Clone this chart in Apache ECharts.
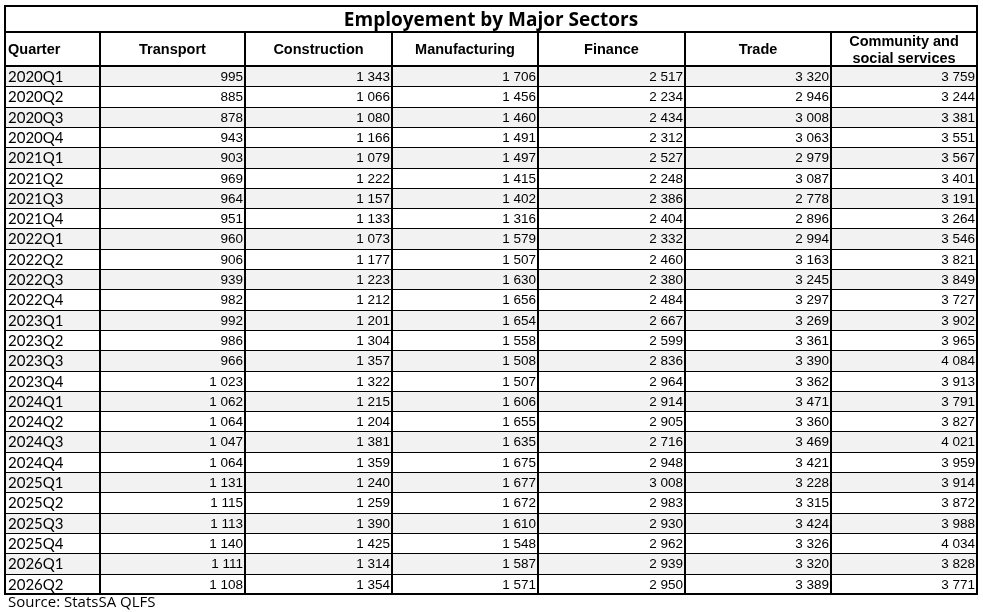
<!DOCTYPE html>
<html>
<head>
<meta charset="utf-8">
<script src="https://cdn.jsdelivr.net/npm/echarts@6/dist/echarts.min.js"></script>
<style>
html, body { margin: 0; padding: 0; background: #fff; }
#main { width: 983px; height: 612px; }
</style>
</head>
<body>
<div id="main"></div>
<script>
var tableTitle = 'Employement by Major Sectors';
var sourceNote = 'Source: StatsSA QLFS';
var headers = ['Quarter', 'Transport', 'Construction', 'Manufacturing', 'Finance', 'Trade', 'Community and\nsocial services'];
var quarters = ['2020Q1', '2020Q2', '2020Q3', '2020Q4', '2021Q1', '2021Q2', '2021Q3', '2021Q4',
  '2022Q1', '2022Q2', '2022Q3', '2022Q4', '2023Q1', '2023Q2', '2023Q3', '2023Q4',
  '2024Q1', '2024Q2', '2024Q3', '2024Q4', '2025Q1', '2025Q2', '2025Q3', '2025Q4',
  '2026Q1', '2026Q2'];
var transport = [995, 885, 878, 943, 903, 969, 964, 951, 960, 906, 939, 982, 992, 986, 966, 1023,
  1062, 1064, 1047, 1064, 1131, 1115, 1113, 1140, 1111, 1108];
var construction = [1343, 1066, 1080, 1166, 1079, 1222, 1157, 1133, 1073, 1177, 1223, 1212, 1201, 1304, 1357, 1322,
  1215, 1204, 1381, 1359, 1240, 1259, 1390, 1425, 1314, 1354];
var manufacturing = [1706, 1456, 1460, 1491, 1497, 1415, 1402, 1316, 1579, 1507, 1630, 1656, 1654, 1558, 1508, 1507,
  1606, 1655, 1635, 1675, 1677, 1672, 1610, 1548, 1587, 1571];
var finance = [2517, 2234, 2434, 2312, 2527, 2248, 2386, 2404, 2332, 2460, 2380, 2484, 2667, 2599, 2836, 2964,
  2914, 2905, 2716, 2948, 3008, 2983, 2930, 2962, 2939, 2950];
var trade = [3320, 2946, 3008, 3063, 2979, 3087, 2778, 2896, 2994, 3163, 3245, 3297, 3269, 3361, 3390, 3362,
  3471, 3360, 3469, 3421, 3228, 3315, 3424, 3326, 3320, 3389];
var community = [3759, 3244, 3381, 3551, 3567, 3401, 3191, 3264, 3546, 3821, 3849, 3727, 3902, 3965, 4084, 3913,
  3791, 3827, 4021, 3959, 3914, 3872, 3988, 4034, 3828, 3771];

// layout of the table (column widths / row heights in axis units)
var colWidths = [95, 145, 147, 146, 147, 146, 146];
var titleH = 26, headH = 34, rowH = 20.3;

var colEdges = [0];
colWidths.forEach(function (w) { colEdges.push(colEdges[colEdges.length - 1] + w); });
var rowEdges = [0, titleH, titleH + headH];
quarters.forEach(function () { rowEdges.push(rowEdges[rowEdges.length - 1] + rowH); });
var totalW = colEdges[colEdges.length - 1];
var totalH = rowEdges[rowEdges.length - 1];
var nCols = colWidths.length;

function fmt(v) {
  return String(v).replace(/\B(?=(\d{3})+(?!\d))/g, ' ');
}

var columns = [transport, construction, manufacturing, finance, trade, community];

// cells: [col0, row0, col1, row1]
var cells = [];
cells.push({ value: [0, 0, nCols, 1], kind: 'title', text: tableTitle });
headers.forEach(function (h, c) {
  cells.push({ value: [c, 1, c + 1, 2], kind: c === 0 ? 'headLeft' : 'head', text: h });
});
quarters.forEach(function (q, r) {
  var band = r % 2 === 0;
  cells.push({ value: [0, r + 2, 1, r + 3], kind: 'quarter', text: q, band: band });
  columns.forEach(function (col, c) {
    cells.push({ value: [c + 1, r + 2, c + 2, r + 3], kind: 'num', text: fmt(col[r]), band: band });
  });
});

// thick rules: [x0, y0, x1, y1] in table units
var rules = [];
for (var c = 1; c < nCols; c++) rules.push({ value: [colEdges[c], rowEdges[1], colEdges[c], totalH] });
rules.push({ value: [0, rowEdges[1], totalW, rowEdges[1]] });
rules.push({ value: [0, rowEdges[2], totalW, rowEdges[2]] });
rules.push({ value: [0, 0, totalW, 0] });
rules.push({ value: [0, totalH, totalW, totalH] });
rules.push({ value: [0, 0, 0, totalH] });
rules.push({ value: [totalW, 0, totalW, totalH] });

var fonts = {
  title: 'bold 19px "Open Sans"',
  head: 'bold 14.5px "Liberation Sans"',
  headLeft: 'bold 14.5px "Liberation Sans"',
  quarter: '15px Lato',
  num: '13.5px "Liberation Sans"'
};

function renderCell(params, api) {
  var cell = cells[params.dataIndex];
  var p0 = api.coord([colEdges[api.value(0)], rowEdges[api.value(1)]]);
  var p1 = api.coord([colEdges[api.value(2)], rowEdges[api.value(3)]]);
  var x0 = Math.round(p0[0]), y0 = Math.round(p0[1]);
  var x1 = Math.round(p1[0]), y1 = Math.round(p1[1]);
  var tx, align;
  if (cell.kind === 'title' || cell.kind === 'head') { tx = (x0 + x1) / 2; align = 'center'; }
  else if (cell.kind === 'num') { tx = x1 - 2; align = 'right'; }
  else { tx = x0 + 3; align = 'left'; }
  var ty = (y0 + y1) / 2 + (cell.kind === 'title' ? 2 : 1);
  return {
    type: 'group',
    children: [{
      type: 'rect',
      shape: { x: x0 + 0.5, y: y0 + 0.5, width: x1 - x0, height: y1 - y0 },
      style: { fill: cell.band ? '#f2f2f2' : '#ffffff', stroke: '#000', lineWidth: 1 }
    }, {
      type: 'text',
      style: {
        x: tx, y: ty,
        text: cell.text, font: fonts[cell.kind], fill: '#000',
        align: align, verticalAlign: 'middle', lineHeight: 17
      }
    }]
  };
}

function renderRule(params, api) {
  var a = api.coord([api.value(0), api.value(1)]);
  var b = api.coord([api.value(2), api.value(3)]);
  return {
    type: 'line',
    shape: { x1: Math.round(a[0]), y1: Math.round(a[1]), x2: Math.round(b[0]), y2: Math.round(b[1]) },
    style: { stroke: '#000', lineWidth: 2, lineCap: 'square' }
  };
}

var myChart = echarts.init(document.getElementById('main'));
var option = {
  animation: false,
  title: {
    text: sourceNote, left: 8, top: 595, padding: 0,
    textStyle: { fontFamily: 'Open Sans', fontSize: 15, fontWeight: 'normal', color: '#000' }
  },
  grid: { left: 5, top: 6, width: totalW, height: totalH },
  xAxis: { type: 'value', min: 0, max: totalW, show: false },
  yAxis: { type: 'value', min: 0, max: totalH, inverse: true, show: false },
  series: [
    { type: 'custom', renderItem: renderCell, encode: { x: [0, 2], y: [1, 3] }, data: cells, z: 2 },
    { type: 'custom', renderItem: renderRule, encode: { x: [0, 2], y: [1, 3] }, data: rules, z: 3 }
  ]
};
myChart.setOption(option);
</script>
</body>
</html>
